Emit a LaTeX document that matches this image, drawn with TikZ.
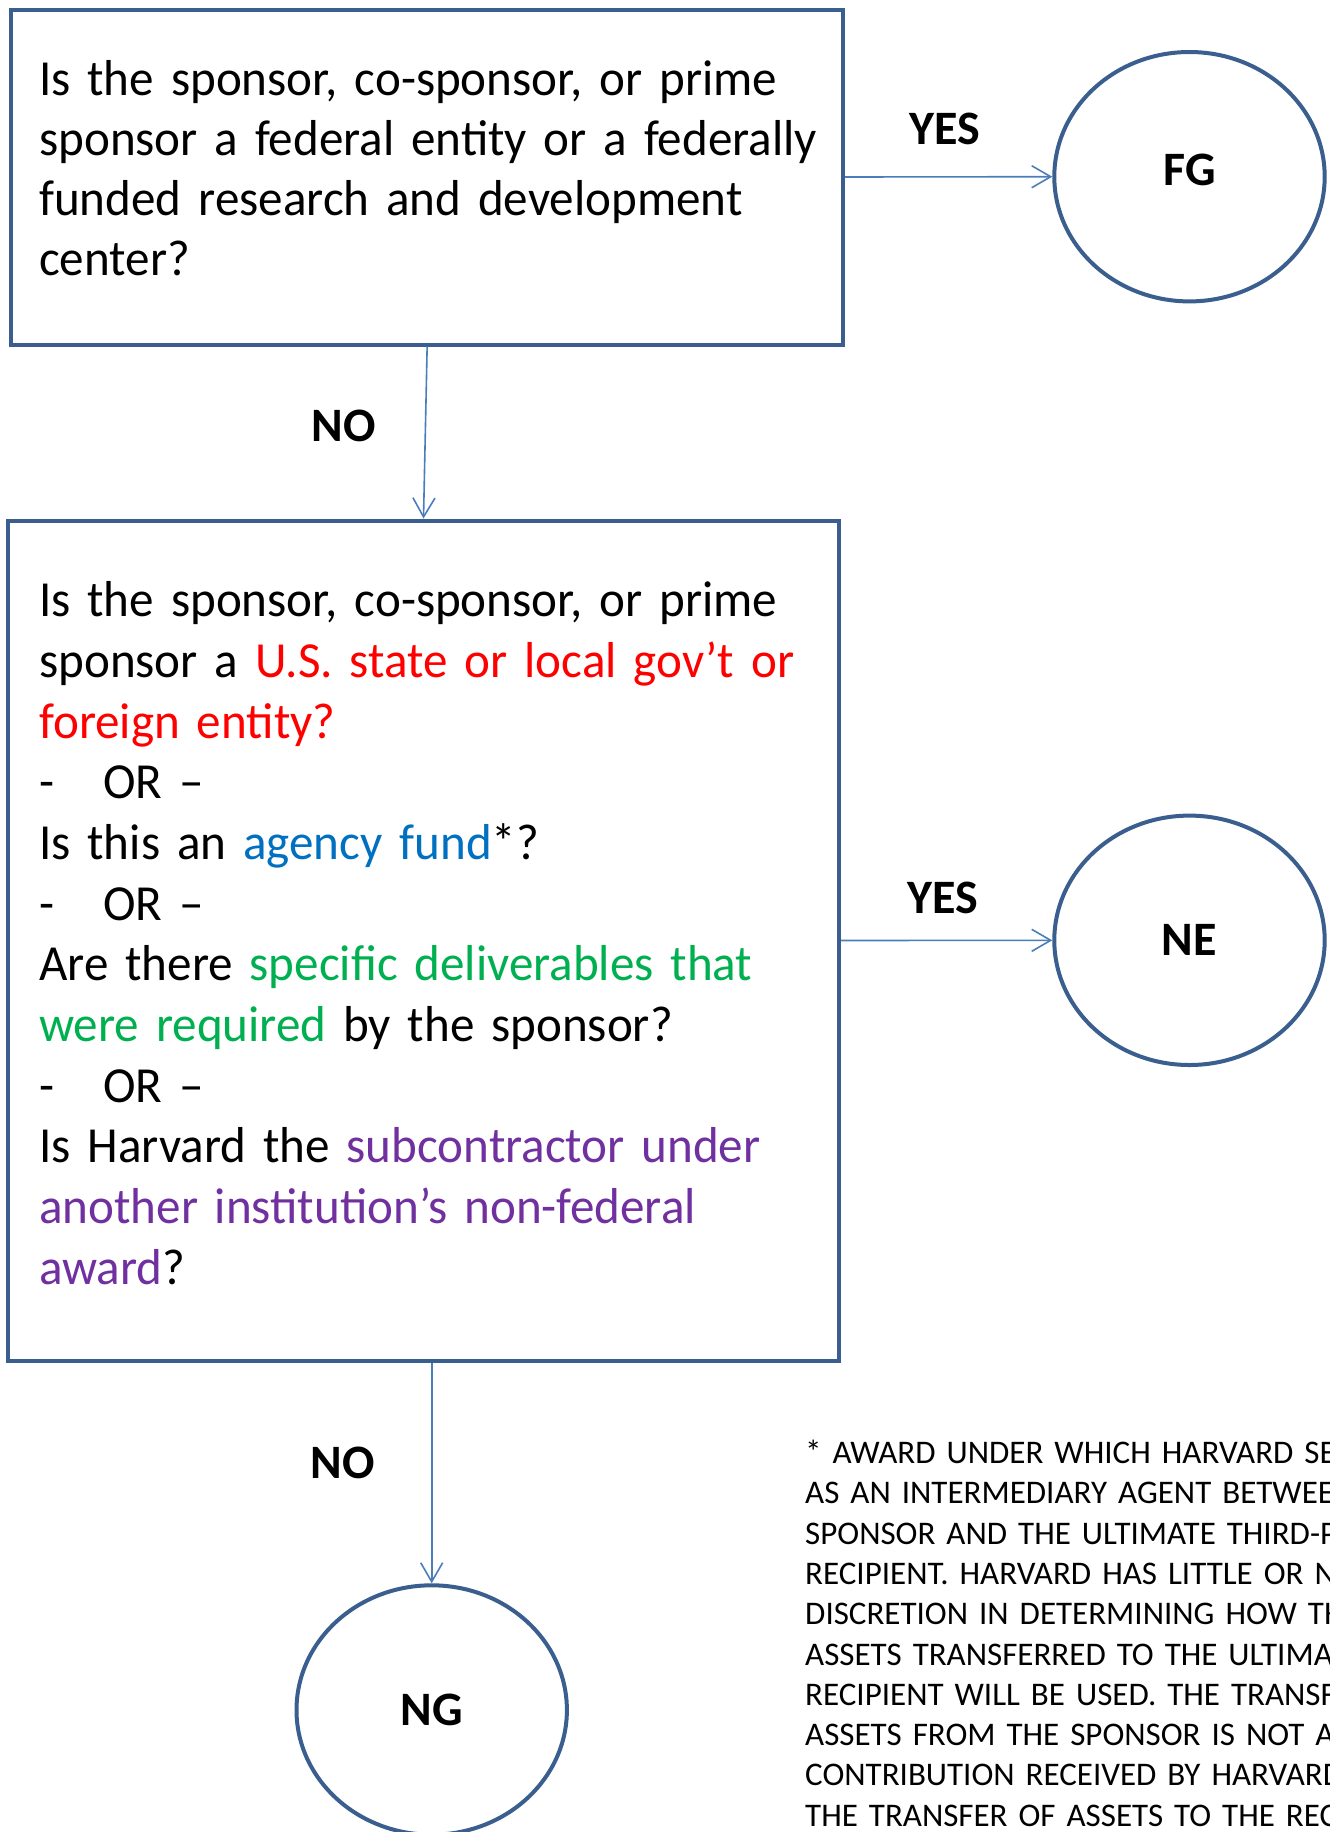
\documentclass[tikz,border=0pt]{standalone}
\usepackage{fontspec}
\setmainfont{Carlito}
\newfontfamily\qfam{Carlito}[FakeStretch=0.972]
\usetikzlibrary{arrows.meta,shapes.geometric}
\definecolor{bordc}{HTML}{3A5F8F}
\definecolor{arrc}{HTML}{4A7EBB}
\definecolor{cred}{HTML}{FF0000}
\definecolor{cblue}{HTML}{0070C0}
\definecolor{cgreen}{HTML}{00B050}
\definecolor{cpurple}{HTML}{7030A0}
\newcommand\qfontone{\qfam\fontsize{50.5}{60}\selectfont}
\newcommand\qfonttwo{\qfam\fontsize{50.5}{60.7}\selectfont}
\begin{document}
\begin{tikzpicture}[x=1pt,y=-1pt,
  qbox/.style={draw=bordc,line width=4pt,rectangle,inner sep=0pt},
  endc/.style={draw=bordc,line width=4pt,ellipse,inner sep=0pt,minimum width=270.4pt,minimum height=249.4pt,font=\fontsize{48}{58}\selectfont\bfseries},
  lbl/.style={font=\fontsize{48}{58}\selectfont\bfseries,anchor=base,inner sep=0pt},
  qtext/.style={anchor=north west,inner sep=0pt,align=left,text width=900pt},
  conn/.style={draw=arrc,line width=1.6pt,-{Straight Barb[length=19pt,width=22pt]}},
]
\useasboundingbox (0,0) rectangle (1330,1832);
\clip (0,0) rectangle (1330,1832);
\fill[white] (0,0) rectangle (1330,1832);

% question boxes
\node[qbox,minimum width=831.7pt,minimum height=335pt] (b1) at (427.15,177) {};
\node[qbox,minimum width=831.4pt,minimum height=840pt] (b2) at (423.5,940.5) {};

\node[qtext,font=\qfontone] (t1) at (39,53) {\strut Is the sponsor, co-sponsor, or prime\\
sponsor a federal entity or a federally\\
funded research and development\\
center?};

\node[qtext,font=\qfonttwo] (t2) at (39,574) {\strut Is the sponsor, co-sponsor, or prime\\
sponsor a {\color{cred}U.S. state or local gov’t or}\\
{\color{cred}foreign entity?}\\
\makebox[64pt][l]{-}OR –\\
Is this an {\color{cblue}agency fund}*?\\
\makebox[64pt][l]{-}OR –\\
Are there {\color{cgreen}specific deliverables that}\\
{\color{cgreen}were required} by the sponsor?\\
\makebox[64pt][l]{-}OR –\\
Is Harvard the {\color{cpurple}subcontractor under}\\
{\color{cpurple}another institution’s non-federal}\\
{\color{cpurple}award}?};

% outcome circles
\node[endc,text depth=13pt] (fg) at (1189.5,176.7) {FG};
\node[endc] (ne) at (1189.5,940.3) {NE};
\node[endc] (ng) at (431.7,1710) {NG};

% connectors
\draw[conn] (b1.east) -- (fg.west);
\draw[conn] (b1.south) -- (b2.north);
\draw[conn] (b2.east) -- (ne.west);
\draw[conn] (b2.south -| ng.north) -- (ng.north);

% connector labels
\node[lbl] (yes1) at (945,144) {YES};
\node[lbl] (yes2) at (943.2,913.3) {YES};
\node[lbl] (no1) at (343.6,441) {NO};
\node[lbl] (no2) at (342.5,1478) {NO};

% footnote
\node[qtext,text width=1000pt,font=\fontsize{33}{40.3}\selectfont] (note) at (805,1435.1) {\strut * AWARD UNDER WHICH HARVARD SERVES\\
AS AN INTERMEDIARY AGENT BETWEEN\\
SPONSOR AND THE ULTIMATE THIRD-PARTY\\
RECIPIENT. HARVARD HAS LITTLE OR NO\\
DISCRETION IN DETERMINING HOW THE\\
ASSETS TRANSFERRED TO THE ULTIMATE\\
RECIPIENT WILL BE USED. THE TRANSFER\\
ASSETS FROM THE SPONSOR IS NOT A\\
CONTRIBUTION RECEIVED BY HARVARD\\
THE TRANSFER OF ASSETS TO THE RECIPIENT};
\end{tikzpicture}
\end{document}
